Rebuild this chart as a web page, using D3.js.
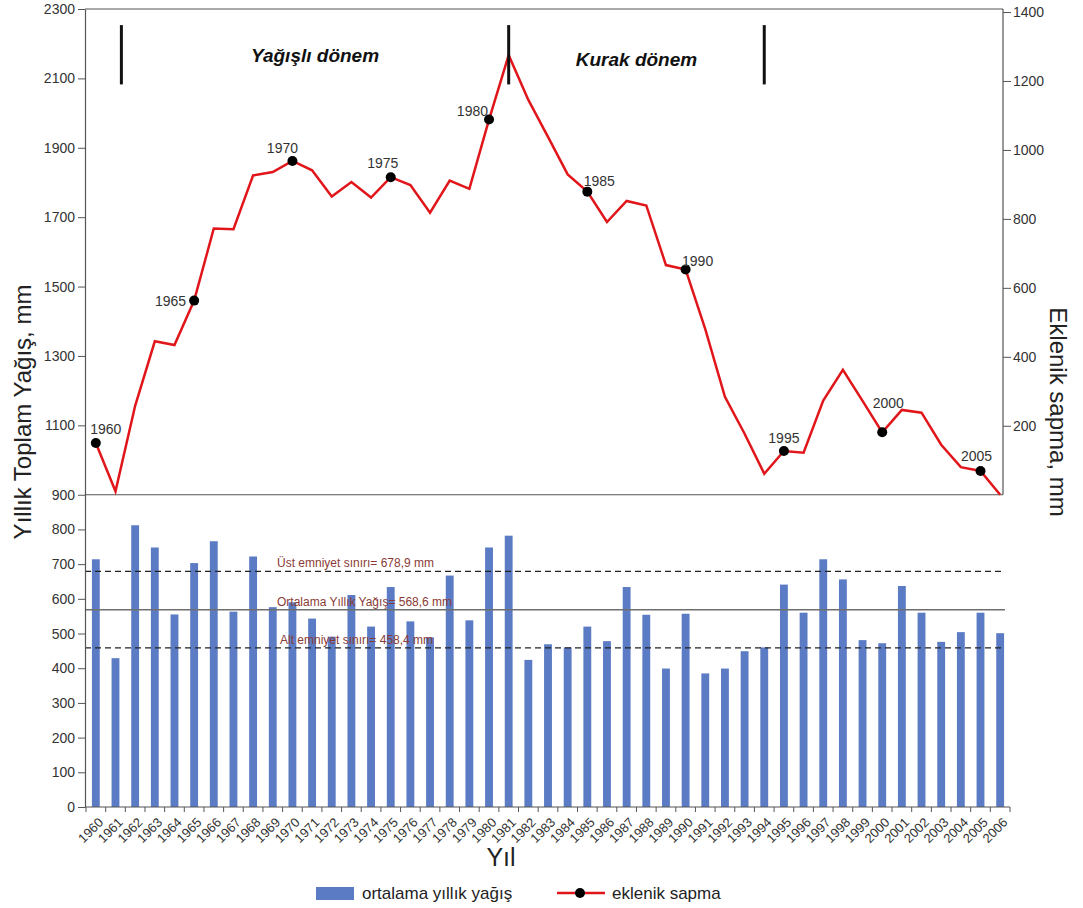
<!DOCTYPE html>
<html>
<head>
<meta charset="utf-8">
<script src="https://cdn.jsdelivr.net/npm/d3@7"></script>
<style>
  body { margin: 0; background: #fff; }
  svg text { font-family: "Liberation Sans", Arial, sans-serif; }
</style>
</head>
<body>
<svg id="chart" width="1083" height="908"></svg>
<script>
// Years of record
const years = [1960, 1961, 1962, 1963, 1964, 1965, 1966, 1967, 1968, 1969,
  1970, 1971, 1972, 1973, 1974, 1975, 1976, 1977, 1978, 1979,
  1980, 1981, 1982, 1983, 1984, 1985, 1986, 1987, 1988, 1989,
  1990, 1991, 1992, 1993, 1994, 1995, 1996, 1997, 1998, 1999,
  2000, 2001, 2002, 2003, 2004, 2005, 2006];

// Annual total precipitation (mm)
const rainfall = [714, 429, 812, 748, 555, 703, 766, 563, 722, 576,
  590, 543, 491, 611, 520, 634, 535, 489, 667, 538,
  748, 782, 424, 469, 460, 520, 478, 634, 554, 399,
  557, 385, 399, 449, 460, 641, 560, 714, 656, 481,
  472, 637, 560, 476, 504, 560, 501];

// Cumulative deviation from the mean (mm)
const cumDev = [150, 10, 258, 445, 434, 563, 772, 770, 926, 936,
  968, 941, 865, 907, 862, 921, 898, 818, 911, 887,
  1088, 1275, 1145, 1038, 929, 879, 791, 852, 839, 666,
  653, 480, 284, 177, 61, 127, 122, 273, 362, 272,
  181, 246, 238, 145, 80, 69, 0];

// Years flagged with a dot and a label on the cumulative curve
const markedYears = [1960, 1965, 1970, 1975, 1980, 1985, 1990, 1995, 2000, 2005];

// Reference levels (mm)
const refLevels = [
  { key: "ust", value: 678.9, label: "Üst emniyet sınırı= 678,9 mm" },
  { key: "ort", value: 568.6, label: "Ortalama Yıllık Yağış= 568,6 mm" },
  { key: "alt", value: 458.4, label: "Alt emniyet sınırı= 458,4 mm" }
];

// Period boundaries (year position) and period names
const periodBounds = [1961.3, 1981, 1994];
const periodNames = ["Yağışlı dönem", "Kurak dönem"];

// Axis tick values
const leftTicks = [0, 100, 200, 300, 400, 500, 600, 700, 800, 900, 1100, 1300, 1500, 1700, 1900, 2100, 2300];
const rightTicks = [200, 400, 600, 800, 1000, 1200, 1400];

// ---- styling / layout ----
const BAR_COLOR = "#5b7cc4";
const LINE_COLOR = "#e0161b";
const AXIS_COLOR = "#555";
const TEXT_COLOR = "#333";
const REF_TEXT = "#8a3b36";

// label placement around each flagged dot: dx, dy (baseline), anchor
const dotLabelPlacement = {
  1960: [10, -9, "middle"], 1965: [-8, 5, "end"], 1970: [-10, -8, "middle"],
  1975: [-8, -9, "middle"], 1980: [-1, -4, "end"], 1985: [12, -6, "middle"],
  1990: [12, -4, "middle"], 1995: [0, -8, "middle"], 2000: [6, -24, "middle"],
  2005: [-4, -10, "middle"]
};

const svg = d3.select("#chart");
const plotLeft = 85, plotRight = 1003, axisEnd = 1010;

const x = d3.scaleBand().domain(years).range([86, axisEnd])
  .paddingInner(0.6).paddingOuter(0.3);
const cx = d => x(d) + x.bandwidth() / 2;
const xLin = d3.scaleLinear().domain([years[0], years[years.length - 1]])
  .range([cx(years[0]), cx(years[years.length - 1])]);

const y = d3.scaleLinear().domain([0, 2300]).range([807, 9]);
const yR = d3.scaleLinear().domain([0, 1400]).range([y(900), 12]);

// ---- frame lines ----
const frame = svg.append("g").attr("stroke", AXIS_COLOR).attr("stroke-width", 1.2);
frame.append("line").attr("x1", plotLeft).attr("x2", plotRight).attr("y1", 9).attr("y2", 9);
frame.append("line").attr("x1", plotLeft).attr("x2", plotRight).attr("y1", y(900)).attr("y2", y(900));
frame.append("line").attr("x1", plotRight).attr("x2", plotRight).attr("y1", 9).attr("y2", y(900));

// ---- bars ----
svg.append("g").selectAll("rect").data(years).join("rect")
  .attr("x", d => x(d))
  .attr("width", x.bandwidth())
  .attr("y", (d, i) => y(rainfall[i]))
  .attr("height", (d, i) => y(0) - y(rainfall[i]))
  .attr("fill", BAR_COLOR);

// ---- reference levels ----
const refG = svg.append("g");
refLevels.forEach(r => {
  refG.append("line")
    .attr("x1", plotLeft).attr("x2", plotRight + 2)
    .attr("y1", y(r.value)).attr("y2", y(r.value))
    .attr("stroke", r.key === "ort" ? "#6f6f6f" : "#222")
    .attr("stroke-width", r.key === "ort" ? 1.5 : 1.3)
    .attr("stroke-dasharray", r.key === "ort" ? null : "6,4");
});
refG.selectAll("text").data(refLevels).join("text")
  .attr("x", d => d.key === "alt" ? 280 : 277)
  .attr("y", d => y(d.value) - 4)
  .attr("fill", REF_TEXT)
  .attr("font-size", 12)
  .text(d => d.label);

// ---- left axis ----
const axL = svg.append("g").attr("transform", `translate(${plotLeft},0)`)
  .call(d3.axisLeft(y).tickValues(leftTicks).tickSize(7).tickSizeOuter(0).tickPadding(3).tickFormat(d3.format("d")));
axL.select(".domain").attr("stroke", AXIS_COLOR).attr("stroke-width", 1.2);
axL.selectAll(".tick line").attr("stroke", AXIS_COLOR);
axL.selectAll(".tick text").attr("fill", TEXT_COLOR).attr("font-size", 14)
  .style("font-family", "'Liberation Sans', Arial, sans-serif");

// ---- right axis ----
const axR = svg.append("g").attr("transform", `translate(${plotRight},0)`)
  .call(d3.axisRight(yR).tickValues(rightTicks).tickSize(8).tickSizeOuter(0).tickPadding(2).tickFormat(d3.format("d")));
axR.select(".domain").remove();
axR.selectAll(".tick line").attr("stroke", AXIS_COLOR);
axR.selectAll(".tick text").attr("fill", TEXT_COLOR).attr("font-size", 14)
  .style("font-family", "'Liberation Sans', Arial, sans-serif");

// ---- bottom axis ----
const axB = svg.append("g").attr("transform", `translate(0,${y(0)})`)
  .call(d3.axisBottom(x).tickSize(0).tickPadding(0));
axB.select(".domain").remove();
axB.append("line").attr("x1", plotLeft).attr("x2", axisEnd).attr("y1", 0).attr("y2", 0)
  .attr("stroke", AXIS_COLOR).attr("stroke-width", 1.2);
const gap = (x.step() - x.bandwidth()) / 2;
const bounds = years.map(d => x(d) - gap).concat([x(years[years.length - 1]) + x.bandwidth() + gap]);
axB.selectAll(".bound").data(bounds).join("line").attr("class", "bound")
  .attr("x1", d => d).attr("x2", d => d).attr("y1", 0).attr("y2", 5)
  .attr("stroke", AXIS_COLOR);
axB.selectAll(".tick text")
  .attr("fill", TEXT_COLOR).attr("font-size", 13)
  .style("font-family", "'Liberation Sans', Arial, sans-serif")
  .attr("text-anchor", "end")
  .attr("dy", "0.35em")
  .attr("transform", "translate(5,13) rotate(-45)");

// ---- cumulative deviation curve ----
svg.append("path").datum(years)
  .attr("d", d3.line().x(d => cx(d)).y(d => yR(cumDev[years.indexOf(d)])))
  .attr("fill", "none").attr("stroke", LINE_COLOR).attr("stroke-width", 2.5)
  .attr("stroke-linejoin", "miter");

const dotG = svg.append("g");
dotG.selectAll("circle").data(markedYears).join("circle")
  .attr("cx", d => cx(d))
  .attr("cy", d => yR(cumDev[years.indexOf(d)]))
  .attr("r", 5).attr("fill", "#000");
dotG.selectAll("text").data(markedYears).join("text")
  .attr("x", d => cx(d) + dotLabelPlacement[d][0])
  .attr("y", d => yR(cumDev[years.indexOf(d)]) + dotLabelPlacement[d][1])
  .attr("text-anchor", d => dotLabelPlacement[d][2])
  .attr("font-size", 14).attr("fill", TEXT_COLOR)
  .text(d => d);

// ---- period markers ----
const perG = svg.append("g");
perG.selectAll("line").data(periodBounds).join("line")
  .attr("x1", d => xLin(d)).attr("x2", d => xLin(d))
  .attr("y1", yR(1362)).attr("y2", yR(1190))
  .attr("stroke", "#111").attr("stroke-width", 3);
perG.selectAll("text").data(periodNames).join("text")
  .attr("x", (d, i) => xLin((periodBounds[i] + periodBounds[i + 1]) / 2))
  .attr("y", (d, i) => i === 0 ? yR(1255) : yR(1243))
  .attr("text-anchor", "middle")
  .attr("font-size", 19).attr("font-weight", "bold").attr("font-style", "italic")
  .attr("fill", "#111")
  .text(d => d);

// ---- axis titles ----
svg.append("text")
  .attr("transform", `translate(31,${412}) rotate(-90)`)
  .attr("text-anchor", "middle").attr("font-size", 24).attr("fill", "#222")
  .text("Yıllık Toplam Yağış, mm");
svg.append("text")
  .attr("transform", `translate(1050,${412}) rotate(90)`)
  .attr("text-anchor", "middle").attr("font-size", 24).attr("fill", "#222")
  .text("Eklenik sapma, mm");
svg.append("text")
  .attr("x", 501).attr("y", 866)
  .attr("text-anchor", "middle").attr("font-size", 25).attr("fill", "#222")
  .text("Yıl");

// ---- legend ----
const leg = svg.append("g");
leg.append("rect").attr("x", 316).attr("y", 887).attr("width", 38).attr("height", 13).attr("fill", BAR_COLOR);
leg.append("text").attr("x", 362).attr("y", 899).attr("font-size", 17).attr("fill", "#222")
  .text("ortalama yıllık yağış");
leg.append("line").attr("x1", 557).attr("x2", 605).attr("y1", 893).attr("y2", 893)
  .attr("stroke", LINE_COLOR).attr("stroke-width", 2.5);
leg.append("circle").attr("cx", 580).attr("cy", 893).attr("r", 5).attr("fill", "#000");
leg.append("text").attr("x", 612).attr("y", 899).attr("font-size", 17).attr("fill", "#222")
  .text("eklenik sapma");
</script>
</body>
</html>
